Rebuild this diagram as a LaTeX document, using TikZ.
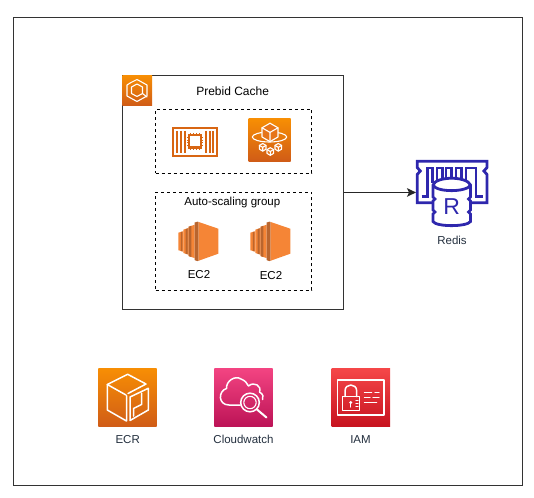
\documentclass[tikz,border=0pt]{standalone}
\usepackage{fontspec}
\setmainfont{Liberation Sans}
\usetikzlibrary{arrows.meta}
\definecolor{orT}{HTML}{F78E04}
\definecolor{orB}{HTML}{D05C17}
\definecolor{orM}{HTML}{E6751A}
\definecolor{piT}{HTML}{F34482}
\definecolor{piB}{HTML}{BC1356}
\definecolor{reT}{HTML}{F54749}
\definecolor{reB}{HTML}{C7131F}
\definecolor{chipc}{HTML}{D86613}
\definecolor{ecl}{HTML}{F58536}
\definecolor{ecd}{HTML}{B9652E}
\definecolor{redisc}{HTML}{2E27AD}
\definecolor{lab}{HTML}{232F3E}
\tikzset{
  framebox/.style={draw=black!80,line width=1.3pt,fill=none,inner sep=0pt,outer sep=0pt,anchor=north west},
  dashbox/.style={draw=black,line width=1pt,dash pattern=on 3pt off 3pt,inner sep=0pt,outer sep=0pt,anchor=north west},
  txt/.style={inner sep=0pt,font=\fontsize{11.5}{13}\selectfont,text=black},
  svc/.style={inner sep=0pt,font=\fontsize{11.5}{13}\selectfont,text=lab},
  tile/.style={inner sep=0pt,outer sep=0pt,anchor=north west,draw=none},
  orangetile/.style={tile,top color=orT,bottom color=orB},
  pinktile/.style={tile,top color=piT,bottom color=piB},
  redtile/.style={tile,top color=reT,bottom color=reB},
  glyph/.style={draw=white,line width=1.1pt,line join=round,line cap=round},
  glyphb/.style={draw=white,line width=1.5pt,line join=round,line cap=round},
  cubeglyph/.pic={
    \draw[glyph,fill=orM,pic actions] (0,-1)--(.87,-.5)--(.87,.5)--(0,1)--(-.87,.5)--(-.87,-.5)--cycle;
    \draw[glyph,pic actions] (-.87,-.5)--(0,0)--(.87,-.5) (0,0)--(0,1);
  },
  ecstack/.pic={
    \fill[ecl] (0,11)--(5,9.5)--(5,30)--(0,28.5)--cycle;
    \fill[ecd] (2.6,10.3)--(4,9.9)--(4,29.7)--(2.6,29.3)--cycle;
    \fill[ecl] (5,8)--(10.4,6.3)--(10.4,33)--(5,31.3)--cycle;
    \fill[ecd] (7.4,7.3)--(9.4,6.6)--(9.4,32.7)--(7.4,32)--cycle;
    \fill[ecl] (10.4,5)--(16.4,3)--(16.4,36.4)--(10.4,34.4)--cycle;
    \fill[ecd] (10.4,5)--(13,4.1)--(13,35.3)--(10.4,34.4)--cycle;
    \fill[ecd] (16.4,.8)--(19,0)--(20.4,.3)--(20.4,39)--(19,39.4)--(16.4,38.4)--cycle;
    \fill[ecl] (20.4,.3)--(40,7)--(40,32)--(20.4,39)--cycle;
  }
}
\begin{document}
\begin{tikzpicture}[x=1pt,y=-1pt]
\useasboundingbox (0,0) rectangle (534,497);
% frames
\node[framebox,minimum width=508.5pt,minimum height=468.5pt] (outer) at (13.7,17.2) {};
\node[framebox,minimum width=221.5pt,minimum height=233.5pt] (main) at (122.3,75.7) {};
\node[dashbox,minimum width=156pt,minimum height=64pt] (topgroup) at (155.7,109.3) {};
\node[dashbox,minimum width=156pt,minimum height=98pt] (asg) at (155.7,192.3) {};
% labels
\node[txt,font=\fontsize{12}{14}\selectfont] (title) at (232.6,91.4) {Prebid Cache};
\node[txt] (asglabel) at (232.3,202.8) {Auto-scaling group};
\node[txt] (ecaLabel) at (199,274.8) {EC2};
\node[txt] (ecbLabel) at (271,275.6) {EC2};
\node[svc] (redisLabel) at (452,240.3) {Redis};
\node[svc] (ecrLabel) at (127.7,439.8) {ECR};
\node[svc] (cwLabel) at (243.5,439.8) {Cloudwatch};
\node[svc] (iamLabel) at (360.5,439.8) {IAM};
% ECS tile
\node[orangetile,minimum size=29.7pt] (ecs) at (122.3,75.7) {};
\draw[glyph] (131,82.5)--(137,79.5)--(147,85)--(147,96)--(137,101.5)--(127,96)--(127,85)--(131,82.5);
\draw[glyph] (137,84)--(142.5,87)--(142.5,93.5)--(137,96.5)--(131.5,93.5)--(131.5,87)--cycle;
\draw[glyph] (142.5,93.5)--(147,97);
% chip
\draw[chipc,line width=2pt] (172.5,127.7) rectangle (217,155.7);
\foreach \bx in {177,181,184.8,205.8,209.8,213.2}{
  \draw[chipc,line width=1.5pt] (\bx,131)--(\bx,152.5);
}
\draw[chipc,line width=2.2pt] (189.2,135.2) rectangle (200.8,147.4);
\foreach \px in {190.7,193.5,196.5,199.3}{
  \draw[chipc,line width=1pt] (\px,132.8)--(\px,135) (\px,147.6)--(\px,149.8);
}
\foreach \py in {137,140,142.8,145.6}{
  \draw[chipc,line width=1pt] (186.8,\py)--(189,\py) (201,\py)--(203.2,\py);
}
% fargate
\node[orangetile,minimum size=42pt] (fargate) at (248.5,119) {};
\draw[glyph] (269.5,137) ellipse (17.2 and 5);
\pic[scale=9.2] at (270,132.4) {cubeglyph};
\pic[scale=3.8,line width=.8pt] at (262.7,147.3) {cubeglyph};
\pic[scale=3.8,line width=.8pt] at (270.3,151.5) {cubeglyph};
\pic[scale=3.8,line width=.8pt] at (278.3,147.3) {cubeglyph};
% EC2
\coordinate (ecaPos) at (178.3,221.7);
\coordinate (ecbPos) at (250.3,221.7);
\pic at (ecaPos) {ecstack};
\pic at (ecbPos) {ecstack};
% Arrow & redis
\node[inner sep=0pt,outer sep=0pt,minimum width=71.7pt,minimum height=66.7pt,anchor=north west] (redis) at (416,160) {};
\draw[line width=1.2pt,draw=black!85,-{Stealth[length=9pt,width=8.5pt,inset=2pt]}] (main.east) -- (main.east -| redis.west);
\begin{scope}[redisc,line width=2.8pt,line join=miter]
\draw (432,202.7)--(417.2,202.7)--(417.2,174.5)--(420.3,171)--(417.2,167.5)--(417.2,161.2)--(487,161.2)--(487,167.5)--(483.9,171)--(487,174.5)--(487,202.7)--(471,202.7);
\draw (421.5,196.5)--(427.7,196.5)--(427.7,168)--(432.5,168)--(432.5,182)--(437,182)--(437,168)--(442.3,168)--(442.3,181)--(446,181)--(446,168)--(451.7,168)--(451.7,181)--(456,181)--(456,168)--(461.7,168)--(461.7,181)--(466,181)--(466,168)--(476,168)--(476,196.5)--(482.5,196.5);
\draw[fill=white] (433,185)--(433,197)--(435,199)--(433,201)--(433,210)--(435,212)--(433,214)--(433,221.5) .. controls (436,227) and (467,227) .. (470.5,221.5)--(470.5,214)--(468.5,212)--(470.5,210)--(470.5,201)--(468.5,199)--(470.5,197)--(470.5,185) .. controls (467,176) and (436,176) .. (433,185) -- cycle;
\draw (433,185) .. controls (436,192.5) and (467,192.5) .. (470.5,185);
\end{scope}
\node[inner sep=0pt,text=redisc,font=\fontsize{23}{25}\selectfont] (redisR) at (451.7,207) {R};
% ECR
\node[orangetile,minimum size=58.4pt] (ecr) at (98.3,368.3) {};
\draw[glyphb] (126,395)--(107.3,384.5)--(127.7,374.3)--(146,384)--(128,393.5);
\draw[glyphb] (107.3,384.5)--(107.3,410)--(126.5,421)--(126.5,395.5);
\draw[glyphb] (130,397)--(148.3,388.3)--(148.3,410)--(130,420.5)--cycle;
\draw[glyphb] (141.5,393)--(141.5,404.5)--(133.5,408.5)--(133.5,416);
% Cloudwatch
\node[pinktile,minimum size=58.4pt] (cw) at (214.3,368.3) {};
\draw[glyphb] (240.3,405)--(229,405) .. controls (218,405) and (218,391) .. (226.5,388.5) .. controls (226,381) and (235,375) .. (241,379) .. controls (245,380.5) and (247,383) .. (248.5,386) .. controls (254,381) and (262,386) .. (259.5,392) .. controls (263,394) and (264,397) .. (262.5,399.5);
\draw[glyphb] (250,402.5) circle (9.3);
\draw[glyph] (250,402.5) circle (6.2);
\draw[glyphb,line width=2pt] (257,409.5)--(266.5,417.5);
% IAM
\node[redtile,minimum size=58.4pt] (iam) at (331.7,368.3) {};
\draw[glyphb] (337.7,380) rectangle (384,415);
\draw[glyphb] (342.7,396.7) rectangle (359.3,410.7);
\draw[glyphb] (345,396.7)--(345,391) .. controls (345,383) and (356.7,383) .. (356.7,391)--(356.7,396.7);
\fill[white] (350.7,402.5) circle (1.7);
\draw[glyph] (350.7,403)--(350.7,407);
\draw[glyph] (356,400.5)--(358,400.5) (356,403.5)--(358,403.5) (356,406.5)--(358,406.5);
\draw[glyph] (364.5,392.7)--(371.7,392.7) (375,392.7)--(379,392.7);
\draw[glyph] (364.5,397.7)--(370,397.7) (373,397.7)--(379,397.7);
\draw[glyph] (364.5,402.7)--(376.7,402.7);
\end{tikzpicture}
\end{document}
